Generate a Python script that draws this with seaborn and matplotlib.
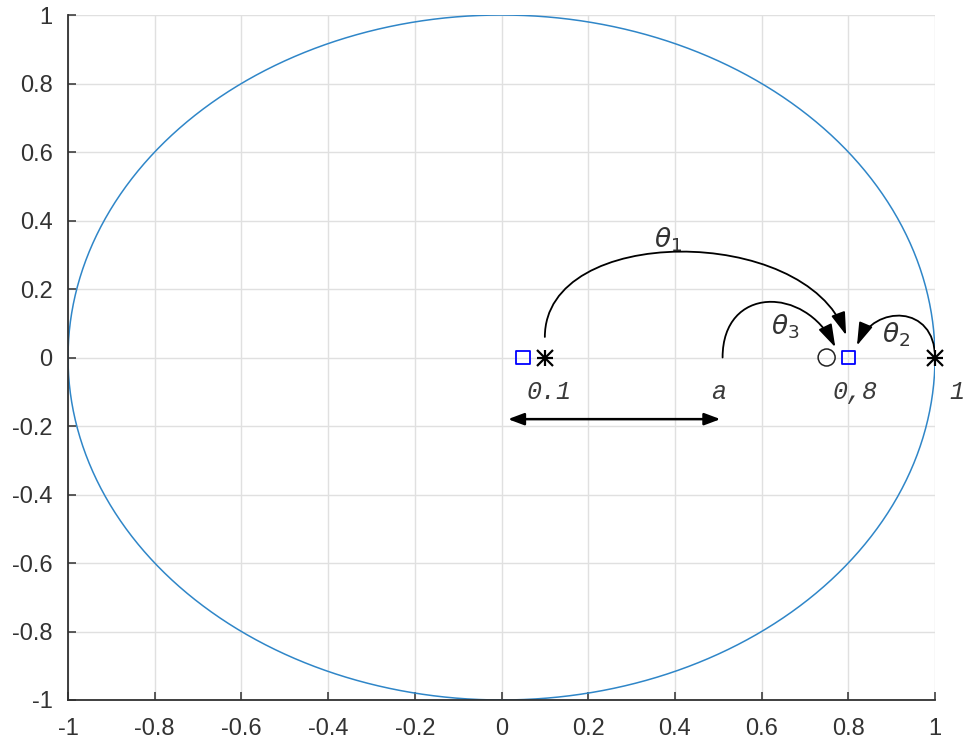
import numpy as np
import pandas as pd
import matplotlib
matplotlib.use('Agg')
import matplotlib.pyplot as plt
from matplotlib.path import Path
from matplotlib.patches import FancyArrowPatch
import seaborn as sns

# unit circle
radius = 1.0
center = (0.0, 0.0)
n_pts = 721

# markers on the real axis
square_x = [0.05, 0.8]
star_x = [0.1, 1.0]
circle_x = [0.75]

# curved arrows as cubic curves: start, ctrl1, ctrl2, end
arc_theta1 = [(0.1, 0.06), (0.1, 0.39), (0.70, 0.39), (0.795, 0.065)]
arc_theta3 = [(0.51, 0.0), (0.51, 0.21), (0.70, 0.21), (0.77, 0.03)]
arc_theta2 = [(1.0, 0.0), (1.0, 0.155), (0.86, 0.155), (0.82, 0.035)]
span = ((0.015, -0.18), (0.505, -0.18))

labels = ['0.1', 'a', '0,8', '1']
label_x = [0.11, 0.5, 0.815, 1.05]
label_y = [-0.1, -0.1, -0.1, -0.1]
theta_labels = [r'$\theta_1$', r'$\theta_3$', r'$\theta_2$']
theta_x = [0.385, 0.655, 0.91]
theta_y = [0.345, 0.09, 0.065]

ticks = [-1, -0.8, -0.6, -0.4, -0.2, 0, 0.2, 0.4, 0.6, 0.8, 1]
tick_labels = ['-1', '-0.8', '-0.6', '-0.4', '-0.2', '0', '0.2', '0.4', '0.6', '0.8', '1']

sns.set_theme(style='whitegrid')
plt.rcParams['font.family'] = ['Liberation Sans', 'DejaVu Sans']
plt.rcParams['mathtext.fontset'] = 'dejavusans'

fig = plt.figure(figsize=(9.63, 7.44), dpi=100)
ax = fig.add_axes([68 / 963, 44 / 744, 867 / 963, 685 / 744])

t = np.linspace(0, 2 * np.pi, n_pts)
df = pd.DataFrame({'x': center[0] + radius * np.cos(t), 'y': center[1] + radius * np.sin(t)})
sns.lineplot(data=df, x='x', y='y', sort=False, estimator=None, color='#2f86c8', lw=1.1, ax=ax)

sns.scatterplot(x=square_x, y=[0] * len(square_x), marker='s', s=95, facecolor='none',
                edgecolor='blue', linewidth=1.3, ax=ax, zorder=5)
for xv in star_x:
    for m in ['+', 'x']:
        ax.plot([xv], [0], ls='none', marker=m, color='black', ms=12, mew=1.6, zorder=5, clip_on=False)
sns.scatterplot(x=circle_x, y=[0] * len(circle_x), marker='o', s=150, facecolor='none',
                edgecolor='#222222', linewidth=1.1, ax=ax, zorder=5)

for pts in [arc_theta1, arc_theta3, arc_theta2]:
    path = Path(pts, [Path.MOVETO, Path.CURVE4, Path.CURVE4, Path.CURVE4])
    arr = FancyArrowPatch(path=path, arrowstyle='-|>,head_length=0.7,head_width=0.22',
                          mutation_scale=20, color='black', lw=1.3, transform=ax.transData,
                          zorder=6)
    ax.add_patch(arr)
ax.annotate('', xy=span[1], xytext=span[0],
            arrowprops=dict(arrowstyle='<|-|>,head_length=0.8,head_width=0.3', color='black',
                            lw=1.8, shrinkA=0, shrinkB=0))

for s, xv, yv in zip(labels, label_x, label_y):
    ax.text(xv, yv, s, family=['Liberation Mono', 'DejaVu Sans Mono'], style='italic',
            fontsize=18, ha='center', va='center', color='#3a3a3a', clip_on=False)
for s, xv, yv in zip(theta_labels, theta_x, theta_y):
    ax.text(xv, yv, s, fontsize=19, ha='center', va='center', color='#333333')

ax.set_xlim(-1, 1)
ax.set_ylim(-1, 1)
ax.set_xticks(ticks)
ax.set_xticklabels(tick_labels)
ax.set_yticks(ticks)
ax.set_yticklabels(tick_labels)
ax.set_xlabel('')
ax.set_ylabel('')
ax.grid(True, color='#e0e0e0', lw=1.0)
ax.set_facecolor('white')
for side in ['top', 'right']:
    ax.spines[side].set_visible(False)
for side in ['left', 'bottom']:
    ax.spines[side].set_visible(True)
    ax.spines[side].set_color('#303030')
    ax.spines[side].set_linewidth(1.3)
ax.tick_params(direction='in', length=6, width=1.1, color='#303030', labelsize=17,
               labelcolor='#333333', left=True, bottom=True)
ax.tick_params(axis='x', pad=13)
ax.tick_params(axis='y', pad=11)

fig.savefig('out.png', dpi=100, facecolor='white')
